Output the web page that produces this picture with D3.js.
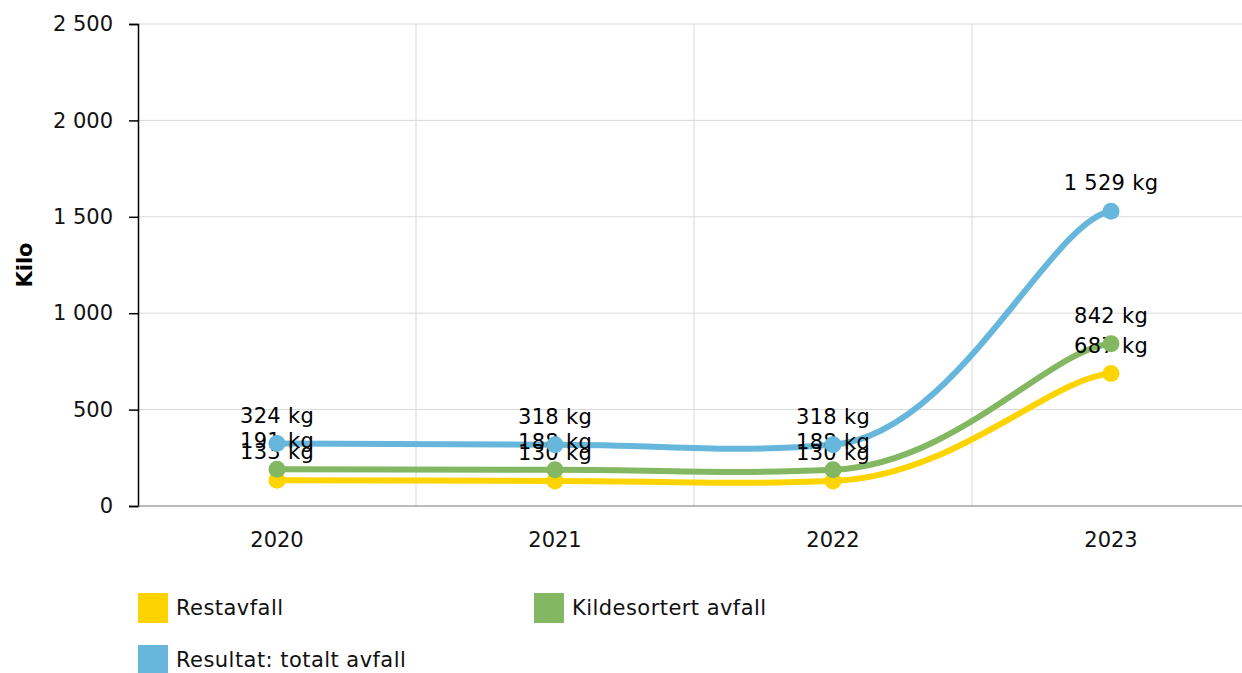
<!DOCTYPE html>
<html><head><meta charset="utf-8">
<script src="https://cdn.jsdelivr.net/npm/d3@7"></script>
<style>body{margin:0;background:#fff}svg{display:block}text{font-family:"DejaVu Sans",Verdana,sans-serif}</style>
</head><body><svg id="c" width="1242" height="673"></svg>
<script>
const years = ["2020","2021","2022","2023"];
const restavfall = [133,130,130,687];
const kildesortert = [191,188,188,842];
const totalt = [324,318,318,1529];
const yTicks = [0,500,1000,1500,2000,2500];
const seriesNames = ["Restavfall","Kildesortert avfall","Resultat: totalt avfall"];
const colors = ["#fdd400","#84b761","#67b7dc"];
const series = [restavfall,kildesortert,totalt];

const svg = d3.select("#c");
const mLeft=138, mTop=24, mBottom=506;
const x = d3.scaleBand().domain(years).range([mLeft,mLeft+4*278]).padding(0);
const y = d3.scaleLinear().domain([0,2500]).range([mBottom,mTop]);
const fmt = v => d3.format(",")(v).replace(/,/g," ");
const FS = 21;

// custom tension curve (amCharts-style smoothing)
function tensionCurve(tx, ty){
  return function(context){
    const ax = 1-tx, ay = 1-ty;
    let pts;
    return {
      areaStart(){}, areaEnd(){},
      lineStart(){pts=[];},
      point(px,py){pts.push([+px,+py]);},
      lineEnd(){
        const n=pts.length; if(!n) return;
        context.moveTo(pts[0][0],pts[0][1]);
        for(let i=0;i<n-1;i++){
          const p0 = i===0?pts[i]:pts[i-1], p1=pts[i], p2=pts[i+1], p3 = i===n-2?pts[i+1]:pts[i+2];
          context.bezierCurveTo(
            p1[0]+ax*(p2[0]-p0[0]), p1[1]+ay*(p2[1]-p0[1]),
            p2[0]-ax*(p3[0]-p1[0]), p2[1]-ay*(p3[1]-p1[1]),
            p2[0], p2[1]);
        }
      }
    };
  };
}

// grid
svg.append("g").selectAll("line").data(yTicks.slice(1)).join("line")
  .attr("x1",mLeft).attr("x2",1242).attr("y1",d=>y(d)).attr("y2",d=>y(d))
  .attr("stroke","#d9d9d9").attr("stroke-width",1);
svg.append("g").selectAll("line").data(years.slice(1)).join("line")
  .attr("x1",d=>x(d)).attr("x2",d=>x(d)).attr("y1",mTop).attr("y2",mBottom)
  .attr("stroke","#d9d9d9").attr("stroke-width",1);

// y axis
const ya = svg.append("g").attr("transform",`translate(${mLeft},0)`)
  .call(d3.axisLeft(y).tickValues(yTicks).tickFormat(fmt).tickSize(9).tickPadding(16));
ya.select(".domain").attr("stroke","#000").attr("stroke-width",1.5);
ya.selectAll(".tick line").attr("stroke","#000").attr("stroke-width",1.5);
ya.selectAll("text").attr("font-size",FS).attr("fill","#111").attr("font-family","DejaVu Sans");

// x axis
const xa = svg.append("g").attr("transform",`translate(0,${mBottom})`)
  .call(d3.axisBottom(x).tickSize(0).tickPadding(26));
xa.select(".domain").attr("stroke","#777").attr("stroke-width",1.2).attr("d",`M${mLeft},0H1242`);
xa.selectAll("text").attr("font-size",FS).attr("fill","#111").attr("font-family","DejaVu Sans");

svg.append("text").attr("transform",`translate(32,${(mTop+mBottom)/2}) rotate(-90)`)
  .attr("text-anchor","middle").attr("font-size",FS).attr("font-weight","bold").text("Kilo");

const cx = d => x(d)+x.bandwidth()/2;
const line = d3.line().x((d,i)=>cx(years[i])).y(d=>y(d)).curve(tensionCurve(0.78,0.96));

series.forEach((s,k)=>{
  svg.append("path").datum(s).attr("d",line).attr("fill","none")
    .attr("stroke",colors[k]).attr("stroke-width",6).attr("stroke-linecap","round");
});
series.forEach((s,k)=>{
  svg.append("g").selectAll("text").data(s).join("text")
    .attr("x",(d,i)=>cx(years[i])).attr("y",(d,i)=>y(d)-21)
    .attr("text-anchor","middle").attr("font-size",FS).attr("fill","#000")
    .attr("letter-spacing","0.3px")
    .text(d=>fmt(d)+" kg");
});
series.forEach((s,k)=>{
  svg.append("g").selectAll("circle").data(s).join("circle")
    .attr("cx",(d,i)=>cx(years[i])).attr("cy",d=>y(d)).attr("r",8.5).attr("fill",colors[k]);
});

// legend
const lg = svg.append("g");
const lpos = [[138,593],[534,593],[138,645]];
seriesNames.forEach((n,k)=>{
  lg.append("rect").attr("x",lpos[k][0]).attr("y",lpos[k][1]).attr("width",30).attr("height",30).attr("fill",colors[k]);
  lg.append("text").attr("x",lpos[k][0]+38).attr("y",lpos[k][1]+15).attr("dy","0.35em")
    .attr("font-size",FS).attr("letter-spacing","0.45px").attr("fill","#111").text(n);
});
</script></body></html>
